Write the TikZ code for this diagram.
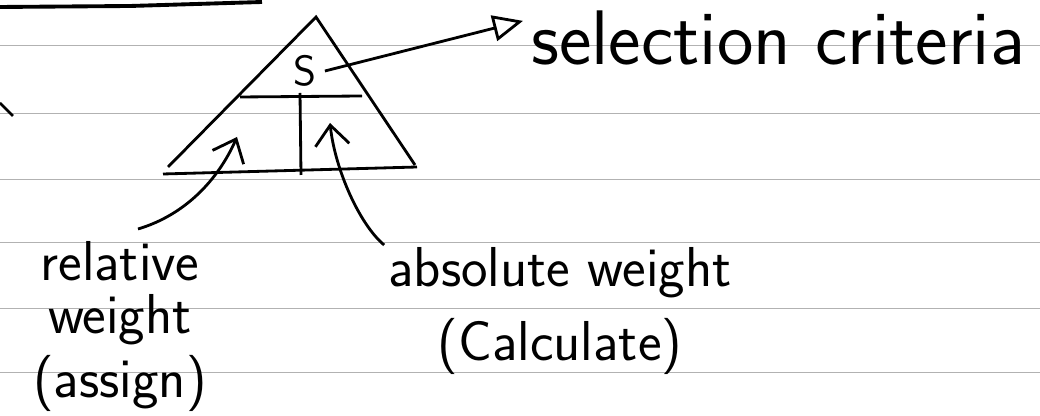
\documentclass[tikz,border=0pt]{standalone}
\usepackage{tikz}
\usetikzlibrary{arrows.meta}

\begin{document}
\begin{tikzpicture}[x=0.01cm,y=-0.01cm,>={Straight Barb[length=2mm,width=3.4mm]},thick,
    note/.style={font=\sffamily,inner sep=2pt}]
  % page 1040 x 416 px, 1px = 0.01cm, y runs down
  \useasboundingbox (0,0) rectangle (1040,416);

  % ruled paper
  \foreach \ry in {45,113,179,242,308,372}
    \draw[gray!60,very thin] (0,\ry) -- (1040,\ry);
  % stroke at the top, tick at the left edge
  \draw[line width=1.1pt] (0,7) -- (130,6) -- (262,2);
  \draw (0,103) -- (13,116);

  % triangle
  \coordinate (top) at (316,17);
  \coordinate (bl) at (168,167);
  \coordinate (br) at (415,165);
  \draw (bl) -- (top) -- (br);
  \draw (163,174) -- (417,167);
  \draw (240,97) -- (362,96);
  \draw (300,93) -- (301,175);
  \coordinate (relcell) at (237,137);
  \coordinate (abscell) at (330,123);

  % labels
  \node[note,font=\sffamily\large] (s) at (305,71) {S};
  \node[note,anchor=base west,font=\sffamily\fontsize{22}{26}\selectfont]
    (crit) at (523,65) {selection criteria};
  \node[note,anchor=north,align=center,font=\sffamily\fontsize{16}{15}\selectfont]
    (rel) at (120,233) {relative\\weight\\[2pt](assign)};
  \node[note,anchor=north,align=center,font=\sffamily\fontsize{16}{21}\selectfont]
    (abs) at (560,239) {absolute weight\\(Calculate)};

  % arrows
  \draw[-{Triangle[open,length=3mm,width=2.6mm]}] (s.east) -- ([yshift=5pt]crit.west);
  \draw[->] ([shift={(18,-4)}]rel.north) .. controls (185,215) and (218,180) .. (relcell);
  \draw[->] ([shift={(4,6)}]abs.north west) .. controls (360,225) and (335,170) .. (abscell);
\end{tikzpicture}
\end{document}
